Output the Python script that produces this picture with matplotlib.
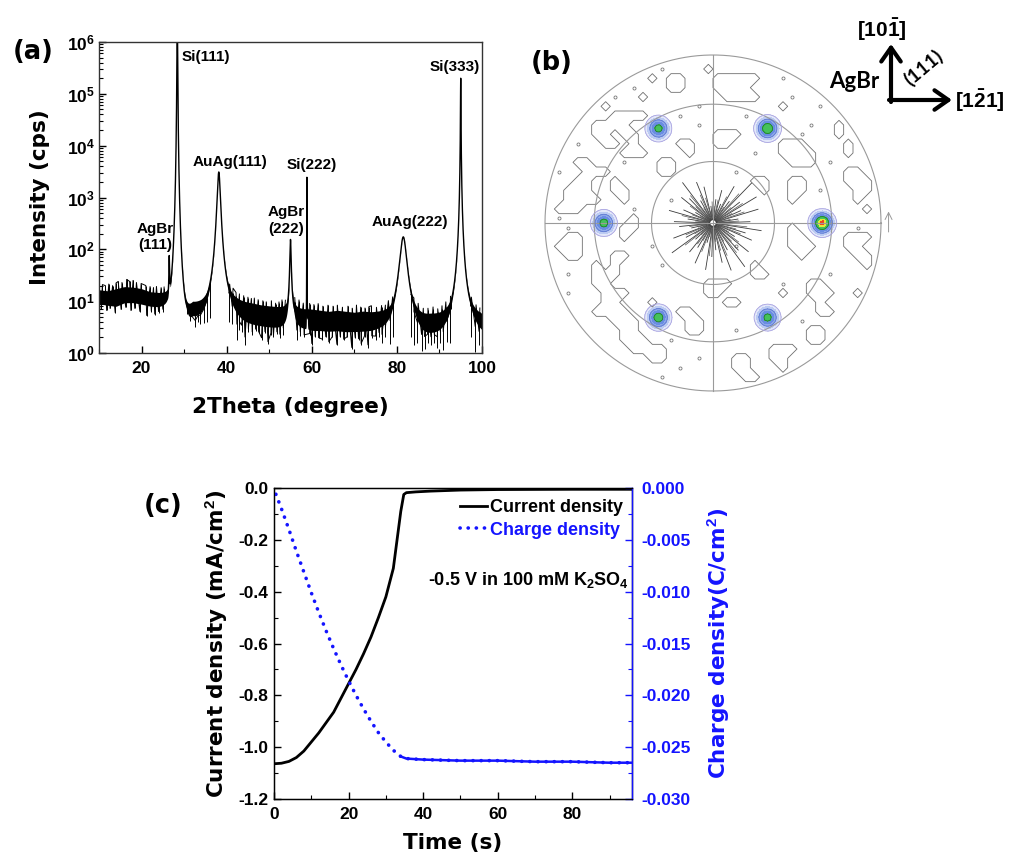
import numpy as np
import matplotlib
matplotlib.use("Agg")
import matplotlib.pyplot as plt
from matplotlib.patches import FancyArrowPatch
from matplotlib.ticker import MultipleLocator, LogLocator, NullFormatter, FixedLocator, FuncFormatter

# ---------------- (a) XRD pattern ----------------
peak_labels = ["AgBr(111)", "Si(111)", "AuAg(111)", "AgBr(222)", "Si(222)", "AuAg(222)", "Si(333)"]
peak_center = [26.5, 28.4, 38.15, 55.0, 58.85, 81.5, 95.0]
peak_height = [60, 3.0e6, 3100, 150, 2500, 170, 2.0e5]
peak_width = [0.08, 0.072, 0.356, 0.12, 0.02, 0.8, 0.042]
peak_shape = [1.5, 2.0, 1.5, 1.0, 2.0, 1.5, 1.3]

# background noise band, log10(counts): upper and lower envelope
bg_x = [10, 12, 14, 16, 18, 20, 22, 24, 26, 30, 32, 34, 36, 40, 42, 44, 46, 48, 50, 52, 54, 56,
        58, 60, 62, 64, 66, 68, 70, 72, 74, 76, 78, 80, 82, 84, 86, 88, 90, 92, 94, 96, 98, 100]
bg_hi = [1.22, 1.20, 1.24, 1.28, 1.27, 1.24, 1.18, 1.16, 1.15, 0.75, 0.95, 0.95, 0.98, 1.0, 1.0,
         0.97, 0.95, 0.92, 0.90, 0.88, 0.86, 0.85, 0.84, 0.84, 0.82, 0.80, 0.82, 0.80, 0.78, 0.80,
         0.78, 0.78, 0.77, 0.76, 0.72, 0.72, 0.70, 0.72, 0.72, 0.74, 0.76, 0.70, 0.72, 0.70]
bg_lo = [0.95, 0.92, 0.90, 0.97, 0.97, 0.94, 0.90, 0.88, 0.90, 0.40, 0.62, 0.62, 0.68, 0.70, 0.62,
         0.55, 0.52, 0.50, 0.48, 0.46, 0.45, 0.45, 0.44, 0.42, 0.42, 0.41, 0.42, 0.40, 0.40, 0.40,
         0.40, 0.42, 0.42, 0.42, 0.40, 0.30, 0.25, 0.27, 0.28, 0.30, 0.35, 0.30, 0.33, 0.30]
# individual noise excursions below / above the band (2theta, log10 counts)
dip_x = [10.5, 11.8, 12.6, 13.8, 15.2, 16.3, 17.5, 18.4, 19.6, 21.2, 22.3, 23.1, 24.0, 25.0,
         30.6, 31.5, 32.6, 33.3, 33.8, 34.6, 35.3, 36.2,
         40.5, 41.3, 42.4, 43.0, 43.5, 44.3, 45.1, 46.0, 46.8, 47.5, 48.2, 49.0, 49.7, 50.4, 51.0,
         51.8, 52.5, 53.3,
         56.5, 57.3, 58.2, 59.5, 60.0, 60.8, 61.6, 62.5, 63.3, 64.0, 64.8, 65.9, 66.7, 67.5, 68.3,
         69.4, 70.2, 71.0, 71.6, 72.4, 73.2, 74.1, 75.0, 75.8, 76.5, 77.3, 78.4, 79.2,
         83.3, 84.0, 84.8, 85.8, 86.5, 87.2, 88.0, 88.8, 89.5, 90.2, 90.9, 91.7, 92.5,
         97.3, 98.4, 99.3]
dip_val = [0.85, 0.82, 0.86, 0.78, 0.84, 0.88, 0.82, 0.86, 0.80, 0.72, 0.80, 0.74, 0.78, 0.80,
           0.75, 0.62, 0.50, 0.60, 0.55, 0.58, 0.60, 0.68,
           0.60, 0.55, 0.25, 0.45, 0.40, 0.15, 0.40, 0.35, 0.42, 0.38, 0.25, 0.38, 0.17, 0.35, 0.30,
           0.36, 0.28, 0.35,
           0.25, 0.33, 0.30, 0.35, 0.15, 0.30, 0.28, 0.25, 0.30, 0.20, 0.30, 0.15, 0.30, 0.25, 0.30,
           0.08, 0.28, 0.25, 0.15, 0.30, 0.10, 0.28, 0.25, 0.30, 0.20, 0.30, 0.18, 0.30,
           0.30, 0.15, 0.20, 0.03, 0.08, 0.20, 0.15, 0.20, 0.10, 0.20, 0.05, 0.22, 0.20,
           0.30, 0.02, 0.15]
jump_x = [10.8, 11.5, 12.3, 13.2, 14.0, 14.5, 15.4, 16.5, 17.2, 18.0, 18.8, 19.9, 21.0, 22.0,
          22.8, 23.5, 24.6, 25.3,
          40.7, 41.5, 42.2, 43.0, 44.0, 45.0, 45.8, 46.5, 47.4, 48.5, 49.3, 50.5, 51.5, 52.3, 53.0,
          53.8,
          56.0, 57.0, 58.0, 59.5, 60.5, 61.5, 62.6, 63.8, 65.0, 66.0, 67.2, 68.5, 69.5, 70.5, 71.5,
          72.5, 73.4, 74.0, 75.2, 76.4, 77.3, 78.0, 79.0,
          84.0, 85.0, 86.2, 87.3, 88.5, 89.6, 90.6, 91.5, 92.6,
          97.5, 98.6, 99.5]
jump_val = [1.32, 1.30, 1.33, 1.30, 1.35, 1.38, 1.36, 1.42, 1.38, 1.40, 1.36, 1.34, 1.30, 1.28,
            1.26, 1.28, 1.25, 1.25,
            1.12, 1.15, 1.10, 1.10, 1.08, 1.06, 1.04, 1.05, 1.02, 1.00, 0.98, 1.00, 0.95, 0.97,
            1.00, 0.95,
            0.98, 1.00, 0.95, 0.95, 0.93, 0.95, 0.90, 0.92, 0.90, 0.92, 0.88, 0.90, 0.86, 0.92,
            0.88, 0.86, 0.88, 0.90, 0.86, 0.88, 0.86, 0.92, 0.86,
            0.82, 0.85, 0.80, 0.82, 0.85, 0.80, 0.84, 0.88, 0.84,
            0.85, 0.82, 0.80]

# ---------------- (b) pole figure ----------------
pole_phi = [0, 60, 120, 180, 240, 300]
pole_chi = 54.7
pole_int = [1.0, 0.8, 0.68, 0.7, 0.74, 0.68]
ring_chi = [30, 60, 90]
# background contour islands on a 36 x 36 cell grid: (row, first col, last col)
blob_runs = [(1, 17, 17), (2, 11, 11), (2, 13, 14), (2, 18, 22), (3, 13, 14), (3, 18, 21),
             (4, 10, 10), (4, 19, 22), (5, 6, 6), (5, 25, 25), (6, 7, 10), (7, 5, 8), (7, 31, 31),
             (8, 5, 6), (8, 8, 9), (8, 18, 20), (8, 31, 31), (9, 6, 7), (9, 9, 9), (9, 14, 15),
             (9, 18, 19), (9, 25, 27), (9, 32, 32), (10, 8, 10), (10, 15, 15), (10, 25, 28),
             (10, 32, 32), (11, 3, 4), (11, 12, 13), (11, 26, 28), (12, 4, 6), (12, 12, 13),
             (12, 32, 33), (13, 3, 4), (13, 7, 7), (13, 22, 23), (13, 26, 27), (13, 32, 34),
             (14, 2, 4), (14, 7, 8), (14, 22, 23), (14, 26, 27), (14, 33, 34), (15, 2, 5),
             (15, 8, 8), (15, 26, 26), (15, 33, 33), (16, 1, 3), (16, 34, 34), (17, 9, 9),
             (18, 8, 9), (18, 26, 26), (19, 2, 3), (19, 8, 8), (19, 26, 27), (19, 32, 34),
             (20, 1, 3), (20, 26, 28), (20, 32, 33), (21, 2, 3), (21, 7, 8), (21, 19, 21),
             (21, 27, 27), (21, 33, 34), (22, 5, 5), (22, 7, 7), (22, 18, 22), (22, 34, 34),
             (23, 5, 7), (23, 18, 19), (23, 22, 23), (24, 5, 6), (24, 17, 19), (24, 28, 29),
             (25, 6, 8), (25, 17, 18), (25, 25, 25), (25, 28, 30), (25, 33, 33), (26, 6, 7),
             (26, 11, 11), (26, 19, 20), (26, 29, 29), (26, 33, 33), (27, 5, 8), (27, 14, 15),
             (27, 29, 30), (28, 7, 9), (28, 15, 16), (29, 8, 9), (29, 15, 16), (29, 28, 29),
             (30, 8, 10), (30, 28, 30), (31, 9, 12), (31, 24, 26), (31, 29, 30), (32, 11, 12),
             (32, 20, 21), (32, 24, 25), (32, 29, 29), (33, 20, 21), (33, 25, 26), (34, 21, 22)]
dot_cells = [(0, 15), (1, 12), (2, 25), (3, 9), (4, 7), (4, 26), (5, 16), (5, 29), (6, 14),
             (6, 21), (7, 16), (7, 28), (8, 27), (9, 3), (10, 22), (11, 8), (11, 30), (12, 1),
             (12, 20), (14, 29), (15, 13), (16, 9), (17, 1), (18, 2), (18, 33), (20, 11), (20, 20),
             (22, 12), (23, 2), (23, 30), (24, 25), (25, 2), (28, 3), (28, 27), (29, 20), (30, 5),
             (30, 13), (32, 16), (33, 9), (33, 14), (34, 12), (34, 27), (35, 16), (35, 22)]
spoke_deg = [2, 9, 17, 24, 31, 38, 46, 53, 60, 68, 75, 83, 90, 97, 104, 112, 119, 127, 134, 141,
             149, 156, 164, 171, 178, 186, 193, 201, 208, 216, 223, 231, 238, 246, 253, 261, 268,
             276, 283, 291, 298, 306, 313, 321, 328, 336, 343, 351]
spoke_len = [0.22, 0.15, 0.28, 0.18, 0.30, 0.20, 0.33, 0.16, 0.25, 0.12, 0.20, 0.14, 0.18, 0.10,
             0.22, 0.26, 0.15, 0.30, 0.20, 0.24, 0.12, 0.19, 0.27, 0.15, 0.23, 0.20, 0.13, 0.25,
             0.18, 0.30, 0.14, 0.22, 0.17, 0.26, 0.12, 0.28, 0.20, 0.16, 0.24, 0.30, 0.18, 0.32,
             0.22, 0.27, 0.15, 0.25, 0.20, 0.29]

# ---------------- (c) chronoamperometry ----------------
t_cur = [0, 2, 4, 6, 8, 10, 12, 14, 16, 18, 20, 22, 24, 26, 28, 30, 32, 33, 34, 34.8, 35.5, 38,
         42, 50, 60, 80, 96]
j_cur = [-1.064, -1.062, -1.055, -1.04, -1.015, -0.98, -0.945, -0.905, -0.865, -0.81, -0.755,
         -0.70, -0.64, -0.575, -0.50, -0.42, -0.31, -0.20, -0.09, -0.025, -0.018, -0.015, -0.012,
         -0.008, -0.006, -0.005, -0.005]
t_chg = [0.5, 2, 4, 6, 8, 10, 12, 14, 16, 18, 20, 22, 24, 26, 28, 30, 32, 34, 35.5, 40, 50, 60,
         70, 80, 90, 96]
q_chg = [-0.0006, -0.0020, -0.0040, -0.0061, -0.0081, -0.0101, -0.0120, -0.0138, -0.0155,
         -0.0171, -0.0186, -0.0200, -0.0213, -0.0225, -0.0236, -0.0245, -0.0253, -0.0259,
         -0.0261, -0.0262, -0.0263, -0.0263, -0.0264, -0.0264, -0.0265, -0.0265]
cur_ticks = [0.0, -0.2, -0.4, -0.6, -0.8, -1.0, -1.2]
chg_ticks = [0.0, -0.005, -0.010, -0.015, -0.020, -0.025, -0.030]

BLUE = "#1414ff"
LABEL_FONT = dict(family="DejaVu Sans", weight="bold", size=15.5)

plt.rcParams.update({
    "font.family": "Liberation Sans",
    "font.weight": "bold",
    "font.size": 12.5,
    "axes.unicode_minus": False,
    "mathtext.fontset": "custom",
    "mathtext.rm": "Liberation Sans:bold",
    "mathtext.bf": "Liberation Sans:bold",
    "mathtext.it": "Liberation Sans:bold:italic",
    "mathtext.default": "bf",
    "xtick.direction": "in",
    "ytick.direction": "in",
})

W, H = 1011, 865
fig = plt.figure(figsize=(W / 100, H / 100), dpi=100)


def box(x0, y0, x1, y1):
    """Pixel box measured from the top-left corner -> figure fraction rect."""
    return [x0 / W, 1 - y1 / H, (x1 - x0) / W, (y1 - y0) / H]


def fpx(x, y):
    return (x / W, 1 - y / H)


# ======================= (a) =======================
ax_a = fig.add_axes(box(99, 42, 482, 353))
tt = np.arange(10.0, 100.0 + 1e-9, 0.004)
peaks = np.zeros_like(tt)
for c, h, w, m in zip(peak_center, peak_height, peak_width, peak_shape):
    peaks += h / (1.0 + ((tt - c) / w) ** 2) ** m
upper = 10 ** np.interp(tt, bg_x, bg_hi) + peaks
lower = 10 ** np.interp(tt, bg_x, bg_lo) + peaks
ax_a.fill_between(tt, lower, upper, color="black", lw=0)
ax_a.plot(tt, np.sqrt(upper * lower), color="black", lw=1.0)
# the excursions joined in 2theta order give the jagged noise trace;
# the trace is broken where a diffraction peak sits between two excursions
nx = np.array(dip_x + jump_x)
nv = np.array(dip_val + jump_val)
order = np.argsort(nx)
nx, nv = nx[order], nv[order]
ny = 10 ** nv + np.interp(nx, tt, peaks)
gap = np.where(np.diff(nx) > 1.5)[0] + 1
ax_a.plot(np.insert(nx, gap, np.nan), np.insert(ny, gap, np.nan), color="black", lw=0.7)
ax_a.vlines(dip_x, 10 ** np.array(dip_val), np.interp(dip_x, tt, lower) * 1.08,
            color="black", lw=0.7)
ax_a.vlines(jump_x, np.interp(jump_x, tt, upper) * 0.92, 10 ** np.array(jump_val),
            color="black", lw=0.7)
ax_a.set_yscale("log")
ax_a.set_xlim(10, 100)
ax_a.set_ylim(1, 1e6)
ax_a.xaxis.set_major_locator(MultipleLocator(20))
ax_a.xaxis.set_minor_locator(MultipleLocator(10))
ax_a.yaxis.set_major_locator(LogLocator(base=10, numticks=10))
ax_a.yaxis.set_minor_locator(LogLocator(base=10, subs=np.arange(2, 10), numticks=10))
ax_a.yaxis.set_minor_formatter(NullFormatter())
ax_a.tick_params(which="both", top=False, right=False)
ax_a.tick_params(which="major", length=5, width=1, pad=3)
ax_a.tick_params(which="minor", length=3, width=0.8)
ax_a.tick_params(axis="x", pad=6)
for s in ax_a.spines.values():
    s.set_color("#333333")
    s.set_linewidth(1.0)
ax_a.set_xlabel("2Theta (degree)", labelpad=15, **LABEL_FONT)
ax_a.set_ylabel("Intensity (cps)", labelpad=12, **LABEL_FONT)

ann_fs = 11
ax_a.text(35.1, 10 ** 5.71, "Si(111)", ha="center", va="center", fontsize=ann_fs)
ax_a.text(40.8, 10 ** 3.69, "AuAg(111)", ha="center", va="center", fontsize=ann_fs)
ax_a.text(60.05, 10 ** 3.63, "Si(222)", ha="center", va="center", fontsize=ann_fs)
ax_a.text(53.9, 10 ** 2.55, "AgBr\n(222)", ha="center", va="center", fontsize=ann_fs,
          linespacing=1.25)
ax_a.text(23.2, 10 ** 2.24, "AgBr\n(111)", ha="center", va="center", fontsize=ann_fs,
          linespacing=1.25)
ax_a.text(83.1, 10 ** 2.53, "AuAg(222)", ha="center", va="center", fontsize=ann_fs)
ax_a.text(93.65, 10 ** 5.51, "Si(333)", ha="center", va="center", fontsize=ann_fs)
fig.text(*fpx(33, 52), "(a)", ha="center", va="center", family="DejaVu Sans",
         weight="bold", size=18.5)

# ======================= (b) =======================
R_PX = 168
CX, CY = 713, 223
ax_b = fig.add_axes(box(CX - 1.12 * R_PX, CY - 1.12 * R_PX, CX + 1.12 * R_PX, CY + 1.12 * R_PX))
ax_b.set_xlim(-1.12, 1.12)
ax_b.set_ylim(-1.12, 1.12)
ax_b.axis("off")

# background contour texture
n = 36
cell_x = -1 + (np.arange(n) + 0.5) * 2 / n
cell_y = 1 - (np.arange(n) + 0.5) * 2 / n
GX, GY = np.meshgrid(cell_x, cell_y)
Z = np.zeros((n, n))
for r_, c0, c1 in blob_runs:
    Z[r_, c0:c1 + 1] = 1.0
RR = np.hypot(GX, GY)
Z[(RR < 0.34) | (RR > 0.97)] = 0
ax_b.contour(GX, GY, Z, levels=[0.5], colors="#6e6e6e", linewidths=0.6)
dr = np.array([d[0] for d in dot_cells])
dc = np.array([d[1] for d in dot_cells])
keep = RR[dr, dc] < 0.97
ax_b.plot(GX[dr, dc][keep], GY[dr, dc][keep], "o", ms=2.2, mfc="none", mec="#777777", mew=0.6)

# central streaks
for a, L in zip(spoke_deg, spoke_len):
    th = np.radians(a)
    ax_b.plot([0.02 * np.cos(th), L * np.cos(th)], [0.02 * np.sin(th), L * np.sin(th)],
              color="#3a3a3a", lw=0.6)
    th2 = th + np.radians(2.5)
    ax_b.plot([0.04 * np.cos(th2), 0.7 * L * np.cos(th2)],
              [0.04 * np.sin(th2), 0.7 * L * np.sin(th2)], color="#555555", lw=0.5)

# rings and cross hair
circ = np.linspace(0, 2 * np.pi, 500)
for chi in ring_chi:
    r = np.sqrt(2) * np.sin(np.radians(chi) / 2)
    ax_b.plot(r * np.cos(circ), r * np.sin(circ), color="#9a9a9a", lw=0.8)
ax_b.plot([-1, 1], [0, 0], color="#9a9a9a", lw=0.8)
ax_b.plot([0, 0], [-1, 1], color="#9a9a9a", lw=0.8)
ax_b.annotate("", xy=(1.045, 0.085), xytext=(1.045, -0.07),
              arrowprops=dict(arrowstyle="->", color="#9a9a9a", lw=0.7))

# texture poles
pg = np.arange(-1.1, 1.1001, 0.015)
PX, PY = np.meshgrid(pg, pg)
F = np.zeros_like(PX)
rp = np.sqrt(2) * np.sin(np.radians(pole_chi) / 2)
for phi, amp in zip(pole_phi, pole_int):
    px, py = rp * np.cos(np.radians(phi)), rp * np.sin(np.radians(phi))
    F += amp * np.exp(-((PX - px) ** 2 + (PY - py) ** 2) / (2 * 0.036 ** 2))
lev = [0.06, 0.14, 0.25, 0.4, 0.56, 0.8, 0.92, 2.0]
fills = ["#e4e8fa", "#bccbf2", "#8fa9ea", "#6a8de2", "#45c25a", "#e5e63a", "#ee4422"]
ax_b.contourf(PX, PY, F, levels=lev, colors=fills)
ax_b.contour(PX, PY, F, levels=[0.06, 0.25, 0.56], colors=["#a9a3e0", "#5f79d2", "#1f7a30"],
             linewidths=0.6)

fig.text(*fpx(552, 63), "(b)", ha="center", va="center", family="DejaVu Sans",
         weight="bold", size=18.5)
fig.text(*fpx(854, 82), "AgBr", ha="center", va="center", family="Lato", weight="bold",
         size=16)
fig.text(*fpx(882, 30), r"$[10\bar{1}]$", ha="center", va="center", size=15)
fig.text(*fpx(980, 101), r"$[1\bar{2}1]$", ha="center", va="center", size=15)
fig.text(*fpx(923, 68), "(111)", ha="center", va="center", family="Lato", weight="bold",
         size=14, rotation=40)
for (x0, y0, x1, y1) in [(891, 102, 891, 44), (889, 100, 952, 100)]:
    fig.add_artist(FancyArrowPatch(fpx(x0, y0), fpx(x1, y1), transform=fig.transFigure,
                                   arrowstyle="->,head_length=0.5,head_width=0.35",
                                   mutation_scale=20, lw=3.0, color="black",
                                   shrinkA=0, shrinkB=0))

# ======================= (c) =======================
ax_c = fig.add_axes(box(274, 488, 632, 799))
h_cur, = ax_c.plot(t_cur, j_cur, color="black", lw=2.0)
ax_c.set_xlim(0, 96)
ax_c.set_ylim(-1.2, 0)
ax_c.xaxis.set_major_locator(MultipleLocator(20))
ax_c.xaxis.set_minor_locator(MultipleLocator(10))
ax_c.yaxis.set_major_locator(FixedLocator(cur_ticks))
ax_c.yaxis.set_minor_locator(MultipleLocator(0.1))
ax_c.yaxis.set_major_formatter(FuncFormatter(lambda v, _: f"{v:.1f}"))
ax_c.tick_params(which="both", top=False, right=False)
ax_c.tick_params(which="major", length=5, width=1, pad=4)
ax_c.tick_params(which="minor", length=3, width=0.8)
ax_c.tick_params(axis="x", pad=6)
for s in ax_c.spines.values():
    s.set_linewidth(1.0)
ax_c.set_xlabel("Time (s)", labelpad=8, **LABEL_FONT)
ax_c.set_ylabel("Current density (mA/cm$^2$)", labelpad=6, **LABEL_FONT)

ax_q = ax_c.twinx()
h_chg, = ax_q.plot(t_chg, q_chg, color=BLUE, lw=2.6, ls=(0, (0.05, 2.2)),
                   dash_capstyle="round")
ax_q.plot(t_chg[17:], q_chg[17:], color=BLUE, lw=1.8)
ax_q.set_ylim(-0.030, 0)
ax_q.yaxis.set_major_locator(FixedLocator(chg_ticks))
ax_q.yaxis.set_minor_locator(MultipleLocator(0.0025))
ax_q.yaxis.set_major_formatter(FuncFormatter(lambda v, _: f"{v:.3f}"))
ax_q.tick_params(axis="y", which="both", colors=BLUE, direction="in")
ax_q.tick_params(axis="y", which="major", length=5, width=1, pad=7)
ax_q.tick_params(axis="y", which="minor", length=3, width=0.8)
ax_q.spines["right"].set_color(BLUE)
ax_q.spines["right"].set_linewidth(1.0)
ax_q.set_ylabel("Charge density(C/cm$^2$)", color=BLUE, labelpad=10, **LABEL_FONT)

leg = ax_q.legend([h_cur, h_chg], ["Current density", "Charge density"], loc="upper right",
                  bbox_to_anchor=(0.985, 0.975), frameon=False, fontsize=13,
                  handlelength=1.5, handletextpad=0.15, labelspacing=0.3, borderaxespad=0,
                  borderpad=0.2)
leg.get_texts()[1].set_color(BLUE)
ax_q.text(0.99, 0.705, "-0.5 V in 100 mM K$_2$SO$_4$", transform=ax_q.transAxes,
          ha="right", va="center", fontsize=13)
fig.text(*fpx(163, 506), "(c)", ha="center", va="center", family="DejaVu Sans",
         weight="bold", size=18.5)

fig.savefig("out.png", dpi=100)
